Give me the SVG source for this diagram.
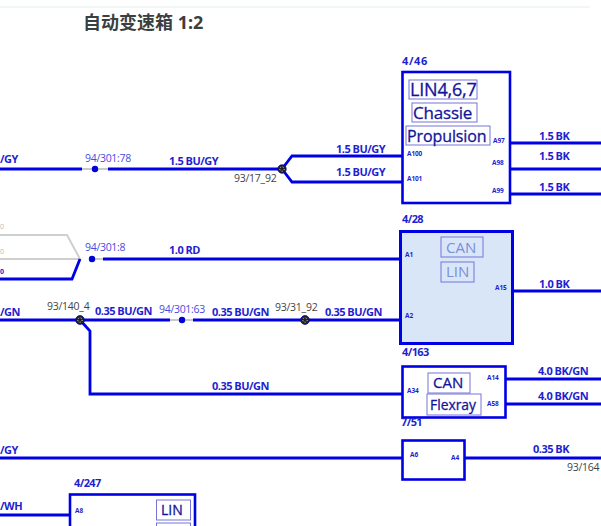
<svg xmlns="http://www.w3.org/2000/svg" width="601" height="526" viewBox="0 0 601 526">
<style>
text{font-family:"Open Sans","Noto Sans",sans-serif;fill:#1f1fd0}
.w{fill:none;stroke:#0000e6;stroke-width:2.8}
.g{fill:none;stroke:#cfcfcf;stroke-width:2}
.gs{fill:none;stroke:#b8b8b8;stroke-width:1.4}
.l{font-size:11px;font-weight:700;letter-spacing:-.5px}
.sp{font-size:10.500px;fill:#4a4ae0;letter-spacing:-.3px}
.j{font-size:10.500px;fill:#444;letter-spacing:-.25px}
.p{font-size:6.500px;font-weight:700;letter-spacing:-.1px}
.box{fill:#fff;stroke:#0000e6;stroke-width:2.6}
.tag{fill:none;stroke:#7474d8;stroke-width:1}
.n{font-size:11px;font-weight:700;letter-spacing:-.6px}
.dot{fill:#0000d8}
.jn{fill:#222;stroke:#0000a0;stroke-width:.8}
.js{fill:none;stroke:#ddd;stroke-width:1;stroke-dasharray:1 1.500}
.big{font-size:18px;fill:#14149a;stroke:#14149a;stroke-width:.3}
</style>
<line x1="0" y1="7" x2="590" y2="7" stroke="#e4eeee" stroke-width="1"/>
<text x="83" y="29" style="font-family:'Noto Sans','Noto Sans CJK SC',sans-serif;font-size:18px;font-weight:700;fill:#3a3f3f">自动变速箱 1:2</text>
<g id="connectors">
<path class="gs" d="M82 169H108M90 259H103M170 320H193"/>
<path class="g" d="M0 235H67L80 259H0"/>
<path class="w" d="M0 169H82M108 169H282M282 169L292 156H403M282 169L292 182H403"/>
<path class="w" d="M0 279H72L80 259M103 259H400"/>
<path class="w" d="M0 320H170M193 320H400M80 320L90 331V394H402"/>
<path class="w" d="M510 143H601M510 169H601M510 194H601M513 291H601M505 379H601M505 404H601"/>
<path class="w" d="M0 458H402M464 458H601M0 515H70"/>
</g>
<g id="wire-labels">
<text class="l" x="0" y="163">/GY</text>
<text class="l" x="169" y="165">1.5 BU/GY</text>
<text class="l" x="336" y="153">1.5 BU/GY</text>
<text class="l" x="336" y="176">1.5 BU/GY</text>
<text class="l" x="169" y="254">1.0 RD</text>
<text class="l" x="0" y="316">/GN</text>
<text class="l" x="95" y="315">0.35 BU/GN</text>
<text class="l" x="212" y="316">0.35 BU/GN</text>
<text class="l" x="325" y="316">0.35 BU/GN</text>
<text class="l" x="212" y="390">0.35 BU/GN</text>
<text class="l" x="0" y="454">/GY</text>
<text class="l" x="0" y="510">/WH</text>
<text class="l" x="0" y="274" style="font-size:7px">0</text>
<text x="0" y="229" style="font-size:7px;fill:#bbb">0</text>
<text x="0" y="254" style="font-size:7px;fill:#bbb">0</text>
<text class="l" x="539" y="140">1.5 BK</text>
<text class="l" x="539" y="160">1.5 BK</text>
<text class="l" x="539" y="191">1.5 BK</text>
<text class="l" x="539" y="288">1.0 BK</text>
<text class="l" x="538" y="375">4.0 BK/GN</text>
<text class="l" x="538" y="400">4.0 BK/GN</text>
<text class="l" x="533" y="453">0.35 BK</text>
</g>
<g id="splice-94-301-78"><circle class="dot" cx="95" cy="169" r="3.2"/><text class="sp" x="85" y="162">94/301:78</text></g>
<g id="splice-94-301-8"><circle class="dot" cx="92" cy="259" r="3.2"/><text class="sp" x="85" y="251">94/301:8</text></g>
<g id="splice-94-301-63"><circle class="dot" cx="182" cy="320" r="3.2"/><text class="sp" x="159" y="313">94/301:63</text></g>
<g id="junction-93-17-92"><circle class="jn" cx="282" cy="169" r="4.2"/><circle class="js" cx="282" cy="169" r="2.200"/><text class="j" x="234" y="182">93/17_92</text></g>
<g id="junction-93-140-4"><circle class="jn" cx="80" cy="320" r="4.4"/><circle class="js" cx="80" cy="320" r="2.200"/><text class="j" x="47" y="310">93/140_4</text></g>
<g id="junction-93-31-92"><circle class="jn" cx="305" cy="320" r="4.4"/><circle class="js" cx="305" cy="320" r="2.200"/><text class="j" x="275" y="311">93/31_92</text></g>
<g id="node-4-46">
<text class="n" x="402" y="65" style="letter-spacing:.6px">4/46</text>
<rect class="box" x="402.500" y="72" width="107.500" height="131"/>
<rect class="tag" x="409" y="80" width="68" height="19"/><text class="big" x="410" y="96" style="letter-spacing:-.2px">LIN4,6,7</text>
<rect class="tag" x="412" y="103" width="65" height="19"/><text class="big" x="413" y="119" style="font-size:17px;letter-spacing:-.2px">Chassie</text>
<rect class="tag" x="406" y="126" width="84" height="19"/><text class="big" x="407" y="142" style="font-size:16px;letter-spacing:-.1px">Propulsion</text>
<text class="p" x="407" y="156">A100</text><text class="p" x="407" y="181">A101</text>
<text class="p" x="493" y="143">A97</text><text class="p" x="492" y="165">A98</text><text class="p" x="492" y="193">A99</text>
</g>
<g id="node-4-28">
<text class="n" x="402" y="223">4/28</text>
<rect x="400.500" y="231.500" width="112" height="112" style="fill:#d9e6f8;stroke:#0000e6;stroke-width:3"/>
<rect class="tag" x="441" y="237" width="42" height="20"/><text class="big" x="446" y="253" style="fill:#7c8ed8;stroke:none;font-size:15px">CAN</text>
<rect class="tag" x="441" y="262" width="33" height="20"/><text class="big" x="446" y="277" style="fill:#7c8ed8;stroke:none;font-size:15px">LIN</text>
<text class="p" x="405" y="257">A1</text><text class="p" x="405" y="318">A2</text><text class="p" x="495" y="290">A15</text>
</g>
<g id="node-4-163">
<text class="n" x="402" y="356">4/163</text>
<rect class="box" x="402.500" y="366.500" width="103" height="51"/>
<rect class="tag" x="428" y="373" width="42" height="20"/><text class="big" x="433" y="388" style="font-size:15px">CAN</text>
<rect class="tag" x="427" y="394" width="54" height="21"/><text class="big" x="430" y="410" style="font-size:14px" textLength="46" lengthAdjust="spacingAndGlyphs">Flexray</text>
<text class="p" x="407" y="393">A34</text><text class="p" x="487" y="380">A14</text><text class="p" x="487" y="406">A58</text>
</g>
<g id="node-7-51">
<text class="n" x="401" y="426">7/51</text>
<rect class="box" x="402.500" y="440.500" width="62" height="39"/>
<text class="p" x="410" y="457">A6</text><text class="p" x="451" y="460">A4</text>
<text class="j" x="567" y="471">93/164</text>
</g>
<g id="node-4-247">
<text class="n" x="74" y="487">4/247</text>
<rect class="box" x="70" y="494.500" width="125" height="40"/>
<rect class="tag" x="156.500" y="500" width="34" height="20"/><text class="big" x="161" y="515" style="font-size:14px">LIN</text>
<rect class="tag" x="156.500" y="523" width="34" height="12"/>
<text class="p" x="75" y="513">A8</text>
</g>
</svg>
